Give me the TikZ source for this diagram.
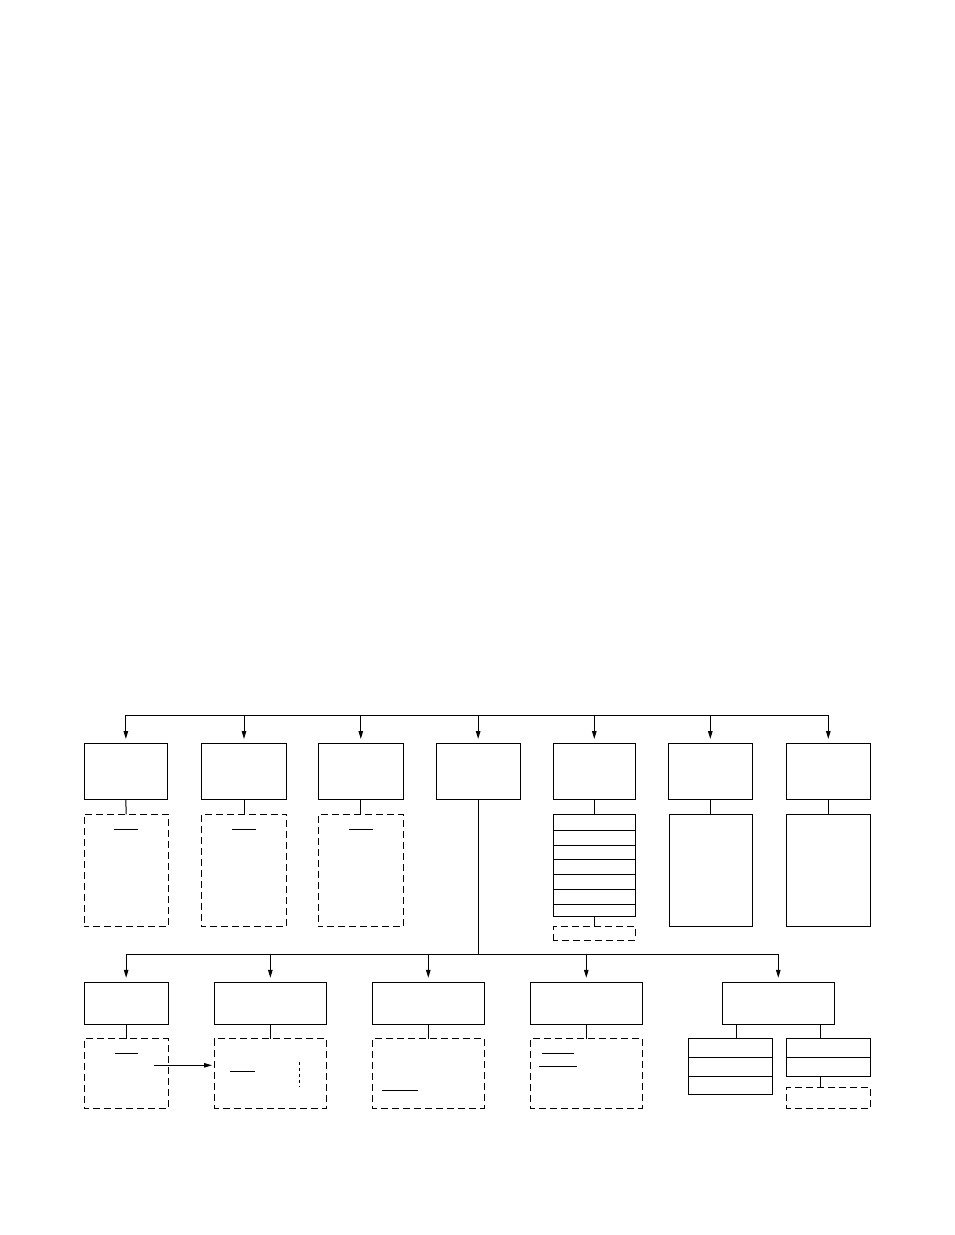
\documentclass[tikz,border=0pt]{standalone}
\usetikzlibrary{arrows.meta}
\newcommand{\mybx}[6][]{%
  \pgfmathsetmacro{\bw}{#5-#3}\pgfmathsetmacro{\bh}{#6-#4}%
  \node[#1, anchor=north west, inner sep=0pt, outer sep=0pt, minimum width=\bw pt, minimum height=\bh pt] (#2) at (#3,#4) {};}
\tikzset{
  solidbox/.style={draw, line width=1pt},
  dashbox/.style={draw, line width=1pt, dash pattern=on 7pt off 4pt, dash phase=2pt},
  conn/.style={line width=1pt},
  arr/.style={line width=1pt, -{Stealth[length=8pt,width=4.5pt,inset=0pt]}},
  mark line/.style={line width=1pt},
}
\begin{document}
\begin{tikzpicture}[x=1pt,y=-1pt]
\useasboundingbox (0,0) rectangle (954,1235);
\coordinate (busT) at (0,715);
\coordinate (busL) at (0,954.3);
% top row boxes
\mybx[solidbox]{A1}{84}{743}{167.7}{799}
\mybx[solidbox]{A2}{201.3}{743}{286.7}{799}
\mybx[solidbox]{A3}{318.3}{743}{403.3}{799}
\mybx[solidbox]{A4}{436}{743}{520.3}{799}
\mybx[solidbox]{A5}{553.3}{743}{635.3}{799}
\mybx[solidbox]{A6}{668.3}{743}{752.3}{799}
\mybx[solidbox]{A7}{786.3}{743}{870.3}{799}
% top bus and arrows
\draw[conn] (A1.north |- busT) -- (A7.north |- busT);
\foreach \n in {A1,A2,A3,A4,A5,A6,A7}{
  \draw[arr] (\n.north |- busT) -- ([yshift=4pt]\n.north);
}
% dashed boxes under A1..A3
\mybx[dashbox]{D1}{84}{814.3}{168.3}{926.7}
\mybx[dashbox]{D2}{201.3}{814.3}{286.7}{926.7}
\mybx[dashbox]{D3}{318.3}{814.3}{403.3}{926.7}
\draw[conn] (A1.south) -- (D1.north);
\draw[conn] (A2.south) -- (D2.north);
\draw[conn] (A3.south) -- (D3.north);
\draw[mark line] (114.3,829) -- (138,829);
\draw[mark line] (232,829) -- (255.7,829);
\draw[mark line] (349,829) -- (373,829);
% stack under A5
\mybx[solidbox]{S1}{553.3}{814.3}{635.3}{830.3}
\mybx[solidbox]{S2}{553.3}{830.3}{635.3}{845.3}
\mybx[solidbox]{S3}{553.3}{845.3}{635.3}{859.7}
\mybx[solidbox]{S4}{553.3}{859.7}{635.3}{874.3}
\mybx[solidbox]{S5}{553.3}{874.3}{635.3}{889.3}
\mybx[solidbox]{S6}{553.3}{889.3}{635.3}{904}
\mybx[solidbox]{S7}{553.3}{904}{635.3}{916.7}
\draw[conn] (A5.south) -- (S1.north);
\mybx[dashbox]{SD}{553.3}{926.7}{635.3}{940}
\draw[conn] (S7.south) -- (SD.north);
% tall boxes under A6, A7
\mybx[solidbox]{T6}{669.3}{814.3}{752.3}{926.7}
\mybx[solidbox]{T7}{786.3}{814.3}{870.3}{926.7}
\draw[conn] (A6.south) -- (A6.south |- T6.north);
\draw[conn] (A7.south) -- (T7.north);
% lower level
\mybx[solidbox]{B1}{84}{982.3}{168.3}{1024}
\mybx[solidbox]{B2}{214}{982.3}{326.7}{1024}
\mybx[solidbox]{B3}{372.3}{982.3}{484.3}{1024}
\mybx[solidbox]{B4}{530.3}{982.3}{642.3}{1024}
\mybx[solidbox]{B5}{722.3}{982.3}{834.3}{1024}
\draw[conn] (A4.south) -- (A4.south |- busL);
\draw[conn] (B1.north |- busL) -- (B5.north |- busL);
\foreach \n in {B1,B2,B3,B4,B5}{
  \draw[arr] (\n.north |- busL) -- ([yshift=4.5pt]\n.north);
}
% dashed boxes lower
\mybx[dashbox]{E1}{84}{1038.7}{168.3}{1108.3}
\mybx[dashbox]{E2}{214}{1038.7}{326.7}{1108.3}
\mybx[dashbox]{E3}{372.3}{1038.7}{484.3}{1108.3}
\mybx[dashbox]{E4}{530.3}{1038.7}{642.3}{1108.3}
\draw[conn] (B1.south) -- (E1.north);
\draw[conn] (B2.south) -- (E2.north);
\draw[conn] (B3.south) -- (E3.north);
\draw[conn] (B4.south) -- (E4.north);
\draw[mark line] (115,1053.3) -- (138,1053.3);
\draw[mark line] (230,1071) -- (255,1071);
\draw[line width=1pt, dash pattern=on 3.5pt off 2.5pt] (299.3,1061.7) -- (299.3,1087);
\draw[mark line] (382,1090) -- (417.7,1090);
\draw[mark line] (542,1053.3) -- (573.7,1053.3);
\draw[mark line] (539,1066) -- (576.7,1066);
\coordinate (aStart) at (154,1065.3);
\draw[arr] (aStart) -- ([xshift=-2pt]E2.west |- aStart);
% stacks under B5
\mybx[solidbox]{L1}{688.3}{1038.7}{772.3}{1057.3}
\mybx[solidbox]{L2}{688.3}{1057.3}{772.3}{1076.3}
\mybx[solidbox]{L3}{688.3}{1076.3}{772.3}{1094.3}
\mybx[solidbox]{R1}{786.3}{1038.7}{870}{1057.3}
\mybx[solidbox]{R2}{786.3}{1057.3}{870}{1076.3}
\mybx[dashbox]{RD}{786.3}{1087.3}{870.7}{1108.3}
\draw[conn] (B5.south -| 736.7,0) -- (L1.north -| 736.7,0);
\draw[conn] (B5.south -| 820.3,0) -- (R1.north -| 820.3,0);
\draw[conn] (R2.south -| 820.3,0) -- (RD.north -| 820.3,0);
\end{tikzpicture}
\end{document}
